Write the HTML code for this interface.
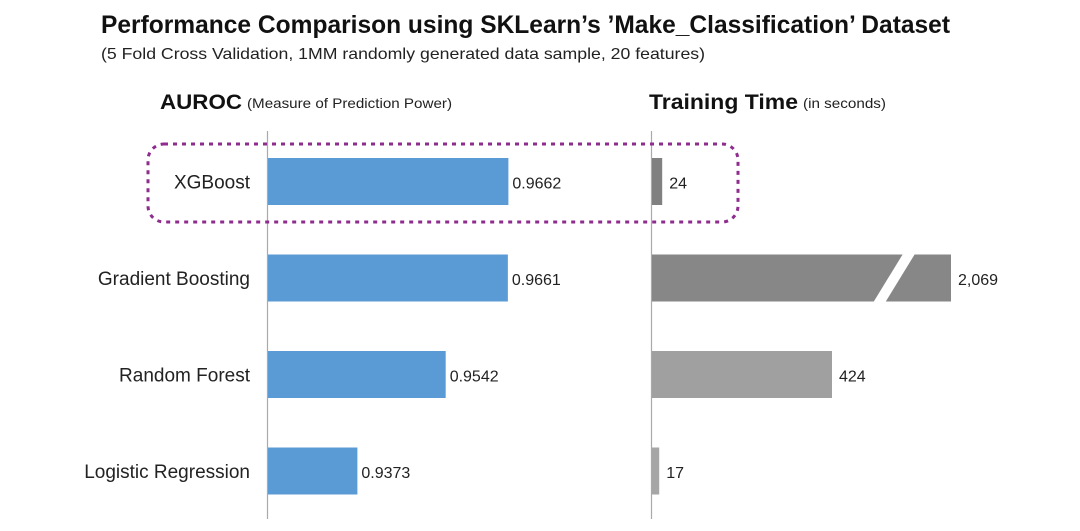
<!DOCTYPE html>
<html><head><meta charset="utf-8">
<style>
html,body{margin:0;padding:0;background:#fff;}
svg{display:block;font-family:"Liberation Sans",sans-serif;}
</style></head>
<body>
<svg id="chart" width="1080" height="531" viewBox="0 0 1080 531" xmlns="http://www.w3.org/2000/svg">
<text x="101" y="33" font-size="25" font-weight="bold" fill="#111" textLength="849" lengthAdjust="spacingAndGlyphs">Performance Comparison using SKLearn’s ’Make_Classification’ Dataset</text>
<text x="101" y="59" font-size="16" fill="#222" textLength="604" lengthAdjust="spacingAndGlyphs">(5 Fold Cross Validation, 1MM randomly generated data sample, 20 features)</text>
<text x="160" y="109" font-size="21" font-weight="bold" fill="#111" textLength="82" lengthAdjust="spacingAndGlyphs">AUROC</text>
<text x="247" y="108" font-size="14" fill="#222" textLength="205" lengthAdjust="spacingAndGlyphs">(Measure of Prediction Power)</text>
<text x="649" y="109" font-size="21" font-weight="bold" fill="#111" textLength="149" lengthAdjust="spacingAndGlyphs">Training Time</text>
<text x="803" y="108" font-size="14" fill="#222" textLength="83" lengthAdjust="spacingAndGlyphs">(in seconds)</text>
<line x1="267.5" y1="131" x2="267.5" y2="519" stroke="#aaa" stroke-width="1.2"/>
<line x1="651.5" y1="131" x2="651.5" y2="519" stroke="#aaa" stroke-width="1.2"/>
<rect x="148" y="144" width="590" height="78" rx="16" fill="none" stroke="#8e2d8e" stroke-width="3" stroke-dasharray="4 5"/>
<g id="marks"></g>
</svg>
<script>
const categories = ["XGBoost", "Gradient Boosting", "Random Forest", "Logistic Regression"];
const aurocValues = [0.9662, 0.9661, 0.9542, 0.9373];
const aurocLabels = ["0.9662", "0.9661", "0.9542", "0.9373"];
const timeValues = [24, 2069, 424, 17];
const timeLabels = ["24", "2,069", "424", "17"];

const NS = "http://www.w3.org/2000/svg";
const g = document.getElementById("marks");
const aurocX = v => 267 + (v - 0.92) * 5225;
const timeScale = 0.4245;
const timeCapPx = 299;
const rowY = i => 158 + i * 96.5;
const barH = 47;
const timeColors = ["#808080", "#878787", "#a0a0a0", "#a6a6a6"];

function mk(tag, attrs) {
  const e = document.createElementNS(NS, tag);
  for (const k in attrs) e.setAttribute(k, attrs[k]);
  g.appendChild(e);
  return e;
}

categories.forEach((c, i) => {
  const y = rowY(i);
  const lab = mk("text", {x: 250, y: y + barH/2 + 7, "text-anchor": "end", "font-size": 19, fill: "#222"});
  
  
  lab.textContent = c;

  const x1 = aurocX(aurocValues[i]);
  const b = mk("rect", {x: 268, y: y, width: x1 - 268, height: barH, fill: "#5b9bd5"});
  
  
  const vl = mk("text", {x: x1 + 4, y: y + barH/2 + 7, "font-size": 16, fill: "#222"});
  
  
  vl.textContent = aurocLabels[i];

  let w = timeValues[i] * timeScale;
  const broken = w > timeCapPx;
  if (broken) w = timeCapPx;
  const tb = mk("rect", {x: 652, y: y, width: w, height: barH, fill: timeColors[i]});
  
  
  if (broken) {
    const bx = 652 + w * 0.8;
    const brk = mk("polygon", {points: `${bx-18},${y+barH+1} ${bx-6},${y+barH+1} ${bx+24},${y-1} ${bx+12},${y-1}`, fill: "#fff"});
    
    
  }
  const tl = mk("text", {x: 652 + w + 7, y: y + barH/2 + 7, "font-size": 16, fill: "#222"});
  
  
  tl.textContent = timeLabels[i];
});
</script>
</body></html>
